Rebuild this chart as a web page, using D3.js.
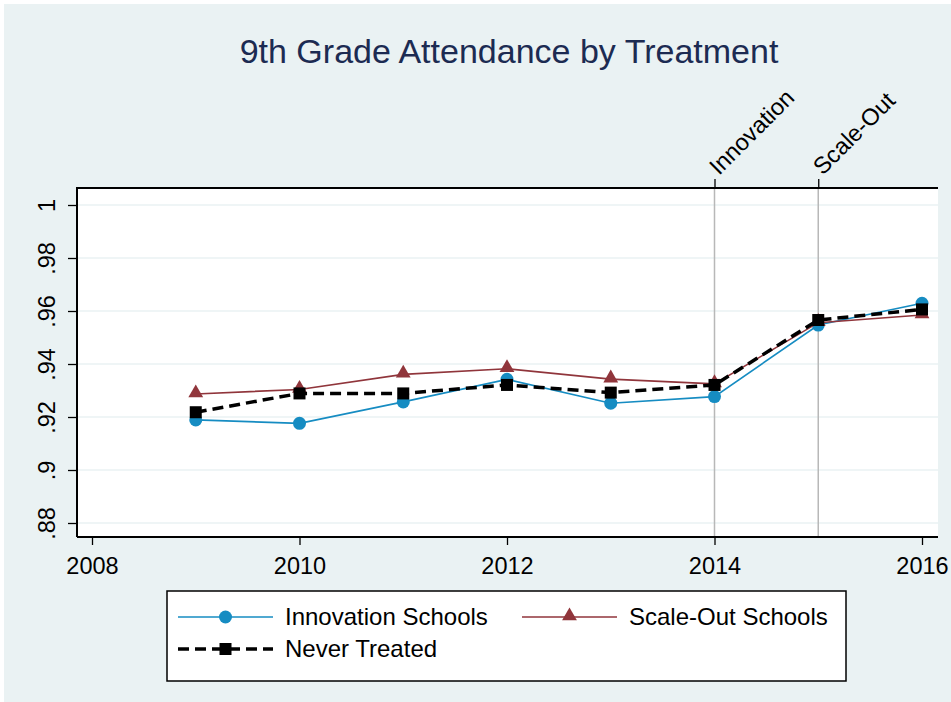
<!DOCTYPE html>
<html>
<head>
<meta charset="utf-8">
<script src="https://cdn.jsdelivr.net/npm/d3@7"></script>
<style>
  body { margin: 0; background: #ffffff; }
  svg { display: block; font-family: "Liberation Sans", Arial, sans-serif; }
</style>
</head>
<body>
<svg id="chart" width="951" height="702"></svg>
<script>
// data
var years = [2009, 2010, 2011, 2012, 2013, 2014, 2015, 2016];
var innovation = [0.9189, 0.9176, 0.9257, 0.9342, 0.9252, 0.9277, 0.9547, 0.9629];
var scaleOut = [0.9287, 0.9304, 0.9361, 0.9382, 0.9343, 0.9325, 0.9556, 0.9585];
var neverTreated = [0.9218, 0.9289, 0.9289, 0.9321, 0.9292, 0.9321, 0.9566, 0.9606];

var xTicks = [2008, 2010, 2012, 2014, 2016];
var yTicks = [0.88, 0.9, 0.92, 0.94, 0.96, 0.98, 1];
var yTickLabels = [".88", ".9", ".92", ".94", ".96", ".98", "1"];
var eventYears = [2014, 2015];
var eventLabels = ["Innovation", "Scale-Out"];
var seriesNames = ["Innovation Schools", "Scale-Out Schools", "Never Treated"];

var bg = "#eaf2f3";
var blue = "#168cc2";
var maroon = "#90353b";

var svg = d3.select("#chart");

// фон
svg.append("rect").attr("x", 4).attr("y", 4).attr("width", 947).attr("height", 698).attr("fill", bg);

var box = { left: 77, right: 938, top: 188, bottom: 537 };

var x = d3.scaleLinear().domain([2008, 2016]).range([92, 922]);
var y = d3.scaleLinear().domain([0.88, 1]).range([523, 205]);

svg.append("rect")
  .attr("x", box.left).attr("y", box.top)
  .attr("width", box.right - box.left).attr("height", box.bottom - box.top)
  .attr("fill", "#ffffff");

// сетка
svg.append("g").selectAll("line")
  .data(yTicks)
  .enter().append("line")
  .attr("x1", box.left).attr("x2", box.right)
  .attr("y1", d => y(d)).attr("y2", d => y(d))
  .attr("stroke", bg).attr("stroke-width", 1.5);

// вертикальные линии событий
svg.append("g").selectAll("line")
  .data(eventYears)
  .enter().append("line")
  .attr("x1", d => x(d)).attr("x2", d => x(d))
  .attr("y1", box.top).attr("y2", box.bottom)
  .attr("stroke", "#b8b8b8").attr("stroke-width", 1.5);

// линии серий
var line = d3.line().x((d, i) => x(years[i])).y(d => y(d));

svg.append("path").datum(innovation)
  .attr("d", line).attr("fill", "none").attr("stroke", blue).attr("stroke-width", 1.6);
svg.append("g").selectAll("circle")
  .data(innovation).enter().append("circle")
  .attr("cx", (d, i) => x(years[i])).attr("cy", d => y(d)).attr("r", 6.5)
  .attr("fill", blue);

svg.append("path").datum(scaleOut)
  .attr("d", line).attr("fill", "none").attr("stroke", maroon).attr("stroke-width", 1.6);
var tri = d3.symbol().type(d3.symbolTriangle).size(95);
svg.append("g").selectAll("path")
  .data(scaleOut).enter().append("path")
  .attr("d", tri)
  .attr("transform", (d, i) => `translate(${x(years[i])},${y(d) - 1})`)
  .attr("fill", maroon);

svg.append("path").datum(neverTreated)
  .attr("d", line).attr("fill", "none").attr("stroke", "#000")
  .attr("stroke-width", 3.5).attr("stroke-dasharray", "11,6");
svg.append("g").selectAll("rect")
  .data(neverTreated).enter().append("rect")
  .attr("x", (d, i) => x(years[i]) - 6).attr("y", d => y(d) - 6)
  .attr("width", 12).attr("height", 12).attr("fill", "#000");

// оси
var axisY = svg.append("g")
  .attr("transform", `translate(${box.left},0)`)
  .call(d3.axisLeft(y).tickValues(yTicks).tickSize(9)
    .tickFormat((d, i) => yTickLabels[i]));
axisY.select(".domain").remove();
axisY.selectAll("text")
  .attr("x", 0).attr("y", 0).attr("dy", 0)
  .attr("transform", "translate(-22,0) rotate(-90)")
  .attr("text-anchor", "middle");

var axisX = svg.append("g")
  .attr("transform", `translate(0,${box.bottom})`)
  .call(d3.axisBottom(x).tickValues(xTicks).tickSize(8).tickFormat(d3.format("d")));
axisX.select(".domain").remove();
axisX.selectAll("text").attr("y", 37).attr("dy", 0);

var axisTop = svg.append("g")
  .attr("transform", `translate(0,${box.top})`)
  .call(d3.axisTop(x).tickValues(eventYears).tickSize(9).tickFormat((d, i) => eventLabels[i]));
axisTop.select(".domain").remove();
axisTop.selectAll("text")
  .attr("x", 0).attr("y", 0).attr("dy", 0)
  .attr("text-anchor", "start")
  .attr("transform", "translate(4,-12) rotate(-45)");

svg.selectAll(".tick line").attr("stroke", "#000").attr("stroke-width", 1.3);
svg.selectAll(".tick text").attr("font-size", 23.5).attr("fill", "#000")
  .attr("font-family", "Liberation Sans, Arial, sans-serif");

// рамка осей
svg.append("path")
  .attr("d", `M${box.left},${box.bottom}H${box.right}M${box.left},${box.bottom}V${box.top}H${box.right}`)
  .attr("fill", "none").attr("stroke", "#000").attr("stroke-width", 2);

// заголовок
svg.append("text")
  .attr("x", 509).attr("y", 63)
  .attr("text-anchor", "middle")
  .attr("font-size", 34)
  .attr("fill", "#1c2b52")
  .text("9th Grade Attendance by Treatment");

// легенда
var legend = svg.append("g");
legend.append("rect")
  .attr("x", 167).attr("y", 591).attr("width", 679).attr("height", 90)
  .attr("fill", "#fff").attr("stroke", "#000").attr("stroke-width", 1.5);

var items = [
  { name: seriesNames[0], x0: 178, y0: 617, color: blue, dash: null, w: 1.6, mark: "circle" },
  { name: seriesNames[1], x0: 522, y0: 617, color: maroon, dash: null, w: 1.6, mark: "tri" },
  { name: seriesNames[2], x0: 178, y0: 649, color: "#000", dash: "11,6", w: 3.5, mark: "square" }
];
items.forEach(function(it) {
  var g = legend.append("g");
  g.append("line")
    .attr("x1", it.x0).attr("x2", it.x0 + 95)
    .attr("y1", it.y0).attr("y2", it.y0)
    .attr("stroke", it.color).attr("stroke-width", it.w)
    .attr("stroke-dasharray", it.dash);
  var cx = it.x0 + 47.5;
  if (it.mark === "circle") {
    g.append("circle").attr("cx", cx).attr("cy", it.y0).attr("r", 6.5).attr("fill", it.color);
  } else if (it.mark === "tri") {
    g.append("path").attr("d", tri).attr("transform", `translate(${cx},${it.y0 - 1})`).attr("fill", it.color);
  } else {
    g.append("rect").attr("x", cx - 6).attr("y", it.y0 - 6).attr("width", 12).attr("height", 12).attr("fill", it.color);
  }
  g.append("text")
    .attr("x", it.x0 + 107).attr("y", it.y0 + 8)
    .attr("font-size", 24)
    .attr("fill", "#000")
    .text(it.name);
});
</script>
</body>
</html>
